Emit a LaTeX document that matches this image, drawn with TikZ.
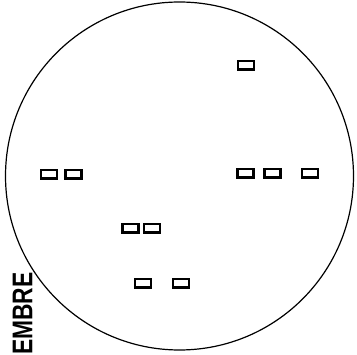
\documentclass[tikz,border=0pt]{standalone}
\usepackage{fontspec}
\setmainfont{Liberation Sans}
\begin{document}
\begin{tikzpicture}[x=1pt,y=-1pt,
  chip/.style={draw,line width=2.5pt,minimum width=16pt,minimum height=8.5pt,inner sep=0pt},
  lbl/.style={font=\bfseries\fontsize{28.5}{28.5}\selectfont,inner sep=0pt,rotate=90}]
\useasboundingbox (0,0) rectangle (357,355);
\node[draw,circle,line width=1.2pt,minimum size=348pt,inner sep=0pt] (disc) at (179.5,176) {};
\node[chip] (t1) at (246,65.5) {};
\node[chip] (l1) at (49,174.5) {};
\node[chip] (l2) at (73.5,174.5) {};
\node[chip] (r1) at (245.5,173.5) {};
\node[chip] (r2) at (272.5,173.5) {};
\node[chip] (r3) at (310,173.5) {};
\node[chip] (m1) at (130.5,228.5) {};
\node[chip] (m2) at (152,228.5) {};
\node[chip] (b1) at (143,283.5) {};
\node[chip] (b2) at (181,283.5) {};
\node[lbl] (txt) at (22.5,313.5) {\scalebox{0.8}[1]{EMBRE}};
\end{tikzpicture}
\end{document}
